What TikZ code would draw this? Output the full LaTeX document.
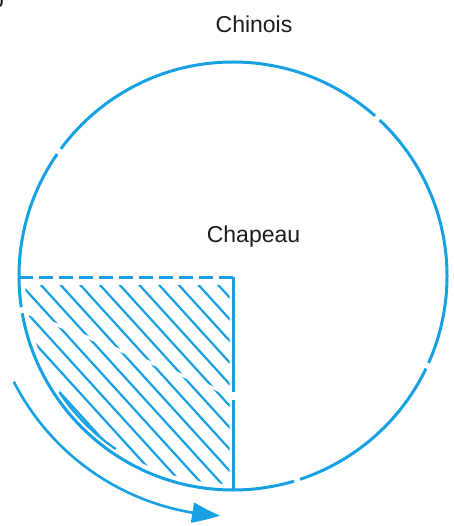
\documentclass[tikz,border=0pt]{standalone}
\usepackage{fontspec}
\setmainfont{Liberation Sans}
\usetikzlibrary{arrows.meta,calc,bending}
\definecolor{cblue}{RGB}{24,160,228}
\definecolor{ink}{RGB}{28,28,28}
\begin{document}
\begin{tikzpicture}[x=1pt,y=-1pt,
  outline/.style={cblue, line width=3pt},
  hatchline/.style={cblue, line width=2.2pt},
  dashedge/.style={cblue, line width=3pt, dash pattern=on 14pt off 6pt},
  arrowline/.style={cblue, line width=2.6pt},
  lbl/.style={font=\fontsize{23}{27}\selectfont, text=ink, inner sep=0pt, anchor=base},
  gapmark/.style={white, line width=6pt},
  fold/.style={white, line width=3pt},
]
\useasboundingbox (0,0) rectangle (453,526);
\coordinate (c) at (233,276);
\coordinate (ac) at (233,270);
\coordinate (tl) at (19,277);
\coordinate (tr) at (233.5,277);
\coordinate (br) at (233.5,489.5);

% main circle
\draw[outline] (c) circle[radius=214];

% hatching of the lower-left quadrant
\begin{scope}
  \clip (18,285) rectangle (229.5,500);
  \clip (c) circle[radius=208];
  \foreach \k in {-3,...,11}
    \draw[hatchline] ({14+19.7*\k},277) -- ++(240,264);
\end{scope}
% small sliver near the arc
\draw[hatchline] ($(c)+(146.2:209)$) arc[start angle=146.2, end angle=124.1, radius=209];

% quadrant edges
\draw[dashedge] (tl) -- (tr);
\draw[outline] (tr) -- (br);

% crease marks (gaps)
\draw[fold] (20,310) -- (237,397.5);
\draw[white, line width=4pt] (233.5,392) -- (233.5,400);
\foreach \a in {215.6,312.4,24.8,72.6,170.8}
  \draw[gapmark] ($(c)+(\a:209)$) -- ($(c)+(\a:219)$);

% rotation arrow
\draw[arrowline, -{Triangle[length=28pt,width=20pt,bend]}]
  ($(ac)+(153:246)$) arc[start angle=153, end angle=93, radius=246];

% labels
\node[lbl] (chinois) at (254,33) {Chinois};
\node[lbl] (chapeau) at (253.5,242) {Chapeau};
\node[font=\fontsize{23}{27}\selectfont, text=ink, inner sep=0pt, anchor=base east] (corner) at (4,7.5) {b};
\end{tikzpicture}
\end{document}
